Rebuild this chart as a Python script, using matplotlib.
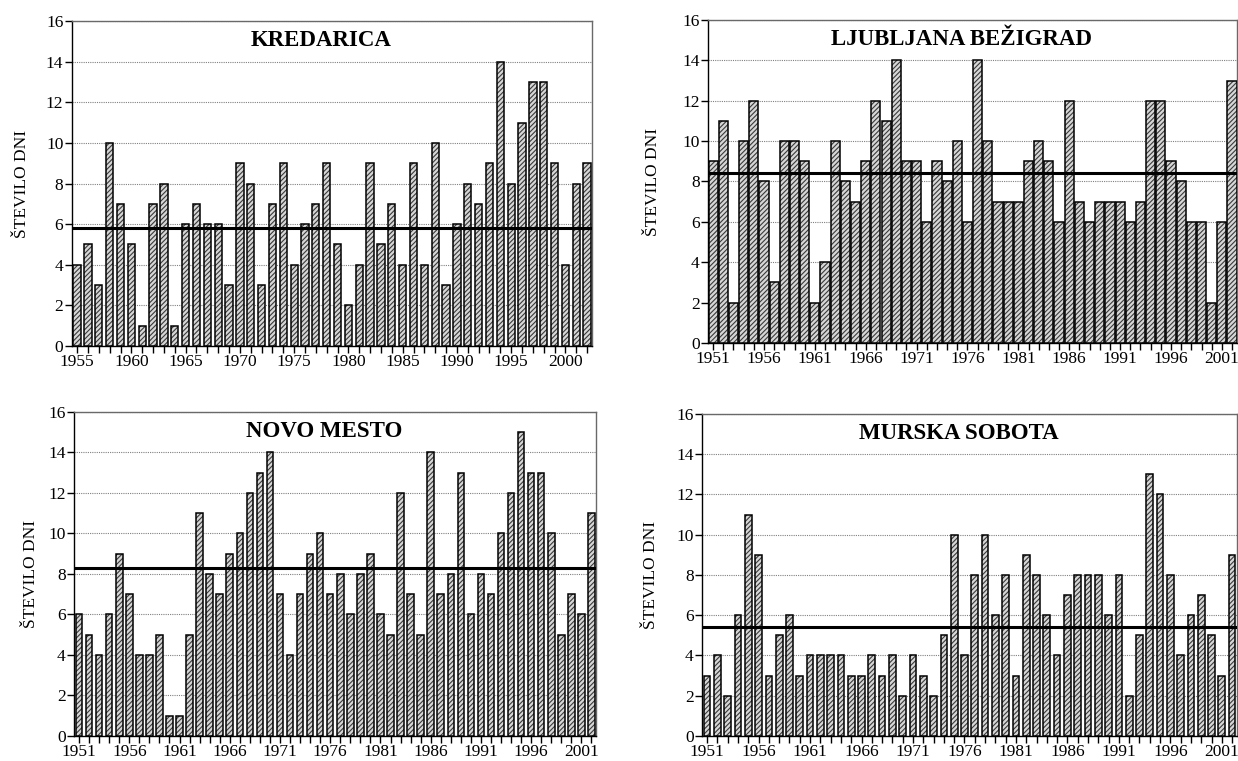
import matplotlib
matplotlib.use("Agg")
import matplotlib.pyplot as plt
from matplotlib.ticker import MultipleLocator

plt.rcParams['font.family'] = ['Liberation Serif', 'DejaVu Serif']
plt.rcParams['hatch.linewidth'] = 0.8

# Podatki: število dni po letih
years_kred = list(range(1955, 2003))
kredarica = [4, 5, 3, 10, 7, 5, 1, 7, 8, 1,
             6, 7, 6, 6, 3, 9, 8, 3, 7, 9,
             4, 6, 7, 9, 5, 2, 4, 9, 5, 7,
             4, 9, 4, 10, 3, 6, 8, 7, 9, 14,
             8, 11, 13, 13, 9, 4, 8, 9]

years = list(range(1951, 2003))
ljubljana = [9, 11, 2, 10, 12, 8, 3, 10, 10, 9,
             2, 4, 10, 8, 7, 9, 12, 11, 14, 9,
             9, 6, 9, 8, 10, 6, 14, 10, 7, 7,
             7, 9, 10, 9, 6, 12, 7, 6, 7, 7,
             7, 6, 7, 12, 12, 9, 8, 6, 6, 2,
             6, 13]
novo_mesto = [6, 5, 4, 6, 9, 7, 4, 4, 5, 1,
              1, 5, 11, 8, 7, 9, 10, 12, 13, 14,
              7, 4, 7, 9, 10, 7, 8, 6, 8, 9,
              6, 5, 12, 7, 5, 14, 7, 8, 13, 6,
              8, 7, 10, 12, 15, 13, 13, 10, 5, 7,
              6, 11]
murska_sobota = [3, 4, 2, 6, 11, 9, 3, 5, 6, 3,
                 4, 4, 4, 4, 3, 3, 4, 3, 4, 2,
                 4, 3, 2, 5, 10, 4, 8, 10, 6, 8,
                 3, 9, 8, 6, 4, 7, 8, 8, 8, 6,
                 8, 2, 5, 13, 12, 8, 4, 6, 7, 5,
                 3, 9]

titles = ["KREDARICA", "LJUBLJANA BEŽIGRAD", "NOVO MESTO", "MURSKA SOBOTA"]
means = [5.8, 8.4, 8.3, 5.4]

# pozicije osi (v deležih slike)
positions = [
    [0.0579, 0.5453, 0.4203, 0.4271],
    [0.5719, 0.5493, 0.4270, 0.4244],
    [0.0598, 0.0329, 0.4216, 0.4258],
    [0.5670, 0.0329, 0.4320, 0.4231],
]
widths = [0.67, 0.9, 0.65, 0.65]
label_x = [-0.080, -0.088, -0.068, -0.080]

fig = plt.figure(figsize=(12.38, 7.61), dpi=100)

panels = [(years_kred, kredarica), (years, ljubljana), (years, novo_mesto), (years, murska_sobota)]

for i in range(4):
    x, y = panels[i]
    ax = fig.add_axes(positions[i])
    # šrafura (sivo) in nato črn rob
    ax.bar(x, y, width=widths[i], color="#d6d6d6", edgecolor="#3a3a3a",
           hatch="///////", linewidth=0, zorder=3)
    ax.bar(x, y, width=widths[i], fill=False, edgecolor="black",
           linewidth=1.1, zorder=3)
    ax.axhline(means[i], color="black", linewidth=2.2, zorder=4)
    ax.set_ylim(0, 16)
    ax.set_xlim(x[0] - 0.5, x[-1] + 0.45)
    ax.yaxis.set_major_locator(MultipleLocator(2))
    ax.set_xticks(x[::5])
    ax.set_xticks(x, minor=True)
    ax.grid(axis="y", color="gray", linestyle=(0, (1, 1)), linewidth=0.8, zorder=0)
    ax.tick_params(axis="both", which="both", direction="out", length=5,
                   width=1, labelsize=12.5, pad=1)
    ax.set_ylabel("ŠTEVILO DNI", fontsize=12.5)
    ax.yaxis.set_label_coords(label_x[i], 0.5)
    ax.text(0.48, 0.94, titles[i], transform=ax.transAxes, ha="center", va="center",
            fontsize=16.5, fontweight="bold", zorder=5)
    for s in ax.spines.values():
        s.set_linewidth(1.0)
    ax.spines["top"].set_color("dimgray")
    ax.spines["right"].set_color("dimgray")

plt.savefig("out.png", dpi=100)
plt.close()
